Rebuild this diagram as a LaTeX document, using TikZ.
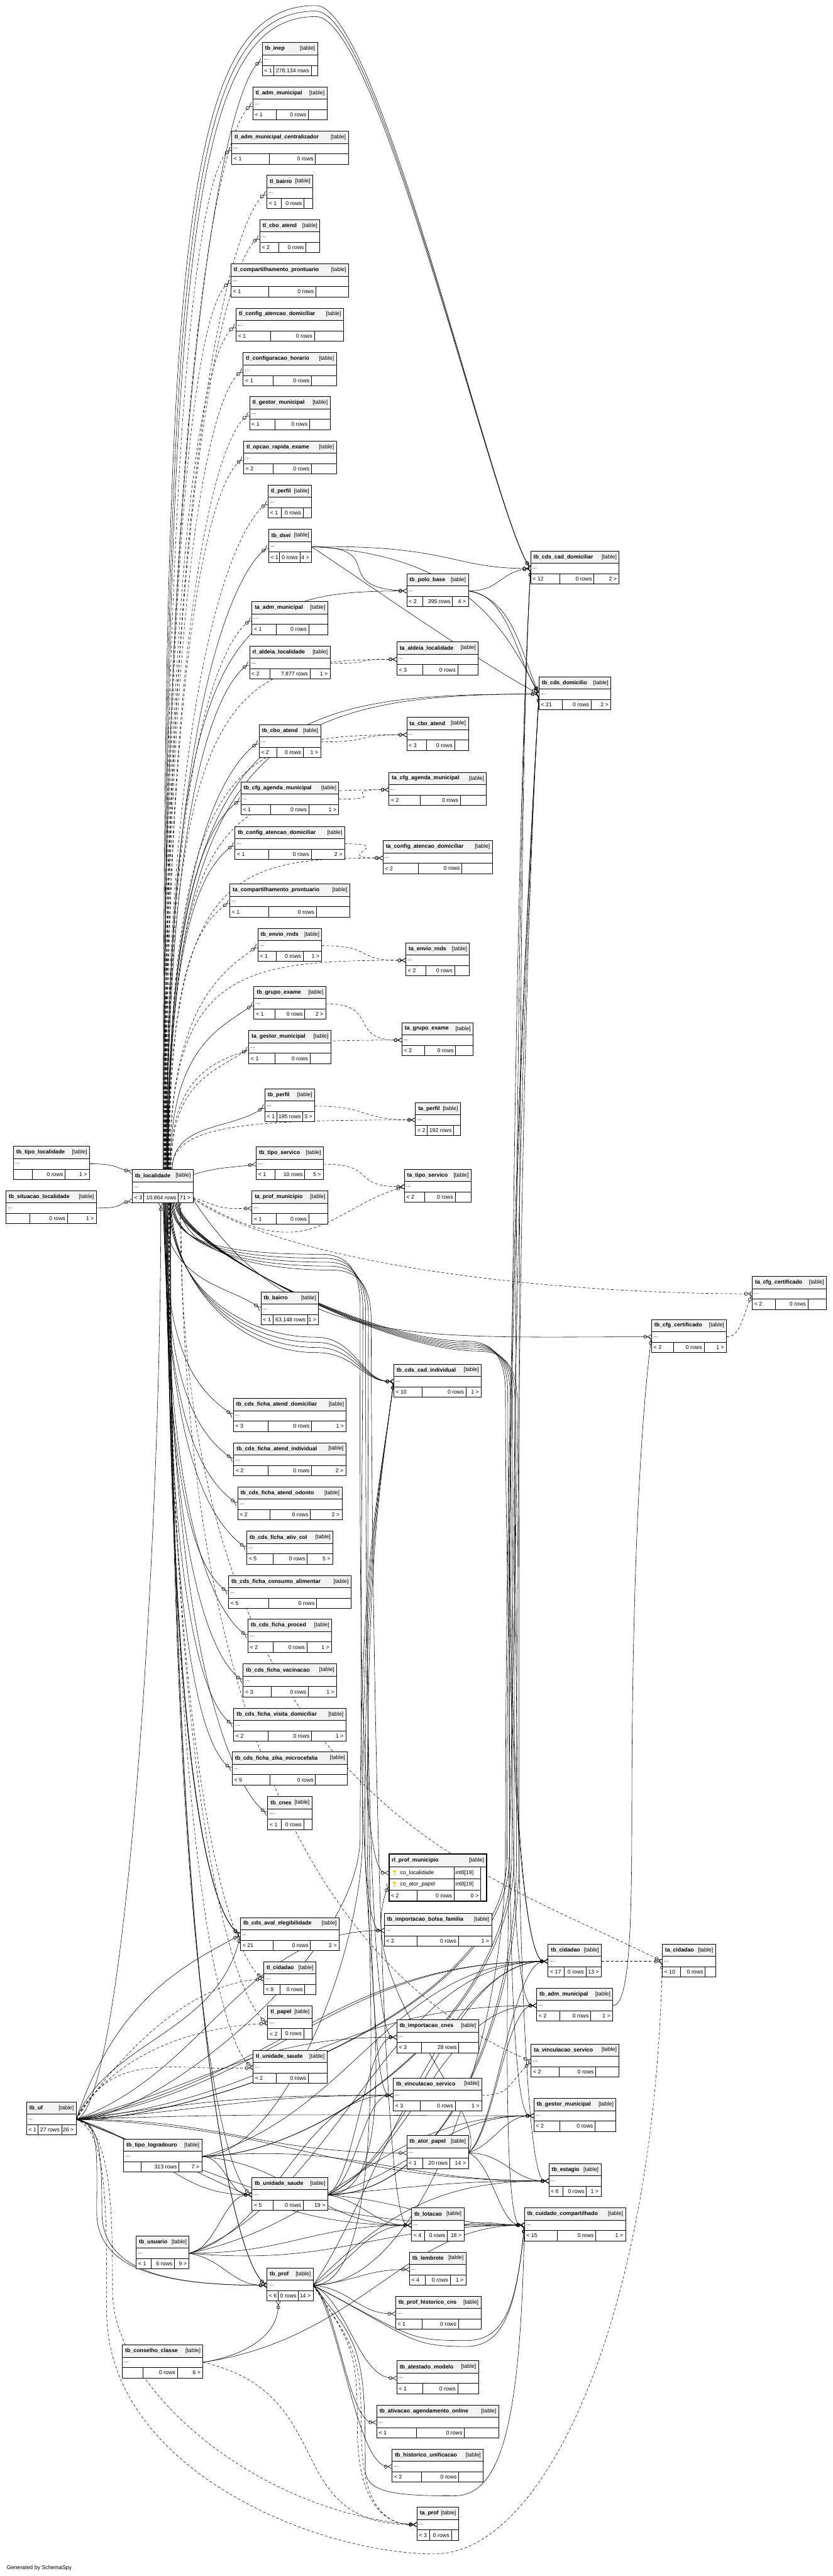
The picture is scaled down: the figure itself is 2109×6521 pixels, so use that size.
\documentclass[tikz,border=0pt]{standalone}
\usepackage{fontspec}
\setmainfont{Liberation Sans}
\usetikzlibrary{arrows.meta,calc}
\pgfdeclarelayer{bg}
\pgfdeclarelayer{edges}
\pgfsetlayers{bg,edges,main}
\definecolor{keyyellow}{RGB}{232,212,0}

\tikzset{
  box/.style={draw=black, line width=1.4pt},
  hdr/.style={fill=black!5},
  ttl/.style={font=\fontsize{14}{16}\selectfont\bfseries, inner sep=0pt},
  cell/.style={font=\fontsize{14}{16}\selectfont, inner sep=0pt},
  fk/.style={line width=0.9pt, line join=round,
    -{Circle[open,length=9pt,width=9pt,line width=1pt] Straight Barb[reversed,length=10pt,width=11pt,line width=1pt]}},
  fkd/.style={fk, dash pattern=on 7pt off 5pt},
}

% table: name, left, top, right, sep1, sep2, left cell, rows, right cell
\newcommand{\dbtable}[9]{%
  \fill[white] (#2,#3) rectangle (#4,#3+83.5);
  \fill[hdr] (#2,#3) rectangle (#4,#3+31);
  \draw[box] (#2,#3) rectangle (#4,#3+83.5);
  \draw[box] (#2,#3+31) -- (#4,#3+31) (#2,#3+57.5) -- (#4,#3+57.5)
    (#5,#3+57.5) -- (#5,#3+83.5) (#6,#3+57.5) -- (#6,#3+83.5);
  \node[ttl, anchor=west] (#1-ttl) at (#2+7,#3+15.5) {\detokenize{#1}};
  \node[cell, anchor=east] (#1-tag) at (#4-6,#3+15.5) {[table]};
  \node[cell, anchor=west] (#1-dots) at (#2+4,#3+44) {...};
  \node[cell, anchor=west] (#1-lt) at (#2+5,#3+70.5) {#7};
  \node[cell, anchor=east] (#1-mid) at (#6-5,#3+70.5) {#8};
  \node[cell, anchor=east] (#1-rt) at (#4-6,#3+70.5) {#9};
  \coordinate (#1-in) at (#2,#3+44);
  \coordinate (#1-out) at (#4,#3+44);
  \node[inner sep=0pt, minimum width=#4pt-#2pt, minimum height=83.5pt, anchor=north west] (#1) at (#2,#3) {};
}

\begin{document}
\begin{tikzpicture}[x=1pt,y=-1pt]
\useasboundingbox (0,0) rectangle (2109,6521);
\begin{pgfonlayer}{bg}
  \fill[white] (0,0) rectangle (2109,6521);
\end{pgfonlayer}

% middle column
\dbtable{tb_inep}{664}{108}{804}{693}{788}{< 1}{278.134 rows}{}
\dbtable{tl_adm_municipal}{640}{220}{828}{700}{781}{< 1}{0 rows}{}
\dbtable{tl_adm_municipal_centralizador}{587}{332}{882}{682}{799}{< 1}{0 rows}{}
\dbtable{tl_bairro}{676}{444}{792}{712}{770}{< 1}{0 rows}{}
\dbtable{tl_cbo_atend}{658}{556}{810}{706}{775}{< 2}{0 rows}{}
\dbtable{tl_compartilhamento_prontuario}{585}{668}{883}{681}{800}{< 1}{0 rows}{}
\dbtable{tl_config_atencao_domiciliar}{598}{780}{870}{686}{796}{< 1}{0 rows}{}
\dbtable{tl_configuracao_horario}{616}{893}{852}{692}{789}{< 1}{0 rows}{}
\dbtable{tl_gestor_municipal}{632}{1004}{836}{697}{784}{< 1}{0 rows}{}
\dbtable{tl_opcao_rapida_exame}{617}{1116}{852}{692}{789}{< 2}{0 rows}{}
\dbtable{tl_perfil}{679}{1228}{789}{713}{768}{< 1}{0 rows}{}
\dbtable{tb_dsei}{680}{1340}{789}{708}{760}{< 1}{0 rows}{4 >}
\dbtable{ta_adm_municipal}{638}{1523}{830}{699}{782}{< 1}{0 rows}{}
\dbtable{rl_aldeia_localidade}{632}{1635}{836}{683}{785}{< 2}{7.877 rows}{1 >}
\dbtable{tb_cbo_atend}{656}{1834}{812}{701}{768}{< 2}{0 rows}{1 >}
\dbtable{tb_cfg_agenda_municipal}{610}{1979}{858}{685}{782}{< 1}{0 rows}{1 >}
\dbtable{tb_config_atencao_domiciliar}{595}{2092}{873}{680}{788}{< 1}{0 rows}{2 >}
\dbtable{ta_compartilhamento_prontuario}{582}{2238}{886}{681}{801}{< 1}{0 rows}{}
\dbtable{tb_envio_rnds}{653}{2350}{815}{700}{768}{< 1}{0 rows}{1 >}
\dbtable{tb_grupo_exame}{643}{2497}{825}{697}{772}{< 1}{0 rows}{2 >}
\dbtable{ta_gestor_municipal}{630}{2609}{838}{696}{785}{< 1}{0 rows}{}
\dbtable{tb_perfil}{671}{2756}{797}{701}{767}{< 1}{195 rows}{3 >}
\dbtable{tb_tipo_servico}{649}{2903}{819}{696}{772}{< 1}{10 rows}{5 >}
\dbtable{ta_prof_municipio}{638}{3015}{830}{699}{782}{< 1}{0 rows}{}
\dbtable{tb_bairro}{661}{3270}{807}{691}{779}{< 1}{63.148 rows}{1 >}
\dbtable{tb_cds_ficha_atend_domiciliar}{591}{3540}{877}{679}{789}{< 3}{0 rows}{1 >}
\dbtable{tb_cds_ficha_atend_individual}{592}{3652}{876}{679}{789}{< 2}{0 rows}{2 >}
\dbtable{tb_cds_ficha_atend_odonto}{602}{3764}{866}{683}{786}{< 2}{0 rows}{2 >}
\dbtable{tb_cds_ficha_ativ_col}{625}{3876}{843}{691}{778}{< 5}{0 rows}{5 >}
\dbtable{tb_cds_ficha_consumo_alimentar}{579}{3988}{889}{680}{802}{< 5}{0 rows}{}
\dbtable{tb_cds_ficha_proced}{628}{4099}{840}{691}{777}{< 2}{0 rows}{1 >}
\dbtable{tb_cds_ficha_vacinacao}{616}{4212}{853}{687}{781}{< 3}{0 rows}{1 >}
\dbtable{tb_cds_ficha_visita_domiciliar}{592}{4324}{876}{679}{789}{< 2}{0 rows}{1 >}
\dbtable{tb_cds_ficha_zika_microcefalia}{588}{4435}{880}{683}{799}{< 9}{0 rows}{}
\dbtable{tb_cnes}{678}{4548}{790}{713}{769}{< 1}{0 rows}{}
\dbtable{tb_cds_aval_elegibilidade}{609}{4854}{859}{691}{786}{< 21}{0 rows}{2 >}
\dbtable{tl_cidadao}{668}{4966}{800}{709}{772}{< 9}{0 rows}{}
\dbtable{tl_papel}{678}{5078}{790}{713}{769}{< 2}{0 rows}{}
\dbtable{tl_unidade_saude}{641}{5190}{828}{700}{781}{< 2}{0 rows}{}
\dbtable{tb_unidade_saude}{638}{5512}{830}{692}{768}{< 5}{0 rows}{19 >}
\dbtable{tb_prof}{676}{5741}{793}{705}{756}{< 6}{0 rows}{14 >}

% right side
\dbtable{tb_cds_cad_domiciliar}{1344}{1395}{1568}{1417}{1504}{< 12}{0 rows}{2 >}
\dbtable{tb_polo_base}{1030}{1452}{1186}{1070}{1146}{< 2}{395 rows}{4 >}
\dbtable{ta_aldeia_localidade}{1005}{1625}{1211}{1071}{1159}{< 3}{0 rows}{}
\dbtable{tb_cds_domicilio}{1365}{1713}{1547}{1424}{1497}{< 21}{0 rows}{2 >}
\dbtable{ta_cbo_atend}{1030}{1816}{1186}{1080}{1151}{< 3}{0 rows}{}
\dbtable{ta_cfg_agenda_municipal}{985}{1955}{1232}{1064}{1166}{< 2}{0 rows}{}
\dbtable{ta_config_atencao_domiciliar}{970}{2128}{1247}{1059}{1170}{< 2}{0 rows}{}
\dbtable{ta_envio_rnds}{1028}{2387}{1189}{1079}{1151}{< 2}{0 rows}{}
\dbtable{ta_grupo_exame}{1018}{2589}{1198}{1076}{1154}{< 2}{0 rows}{}
\dbtable{ta_perfil}{1052}{2791}{1166}{1081}{1149}{< 2}{192 rows}{}
\dbtable{ta_tipo_servico}{1024}{2960}{1193}{1076}{1153}{< 2}{0 rows}{}
\dbtable{ta_cfg_certificado}{1905}{3231}{2093}{1964}{2046}{< 2}{0 rows}{}
\dbtable{tb_cfg_certificado}{1650}{3340}{1840}{1705}{1783}{< 2}{0 rows}{1 >}
\dbtable{tb_cds_cad_individual}{997}{3453}{1219}{1069}{1180}{< 10}{0 rows}{1 >}
\dbtable{tb_importacao_bolsa_familia}{973}{4843}{1245}{1056}{1161}{< 2}{0 rows}{1 >}
\dbtable{tb_cidadao}{1388}{4921}{1523}{1429}{1484}{< 17}{0 rows}{13 >}
\dbtable{ta_cidadao}{1677}{4921}{1812}{1724}{1786}{< 10}{0 rows}{}
\dbtable{tb_adm_municipal}{1359}{5033}{1552}{1417}{1496}{< 2}{0 rows}{1 >}
\dbtable{tb_importacao_cnes}{1005}{5113}{1212}{1068}{1162}{< 3}{28 rows}{}
\dbtable{ta_vinculacao_servico}{1345}{5174}{1568}{1416}{1509}{< 2}{0 rows}{}
\dbtable{tb_vinculacao_servico}{996}{5260}{1220}{1064}{1153}{< 3}{0 rows}{1 >}
\dbtable{tb_gestor_municipal}{1352}{5312}{1560}{1418}{1507}{< 2}{0 rows}{}
\dbtable{tb_ator_papel}{1030}{5406}{1186}{1070}{1139}{< 1}{20 rows}{14 >}
\dbtable{tb_estagio}{1390}{5477}{1522}{1426}{1485}{< 6}{0 rows}{1 >}
\dbtable{tb_lotacao}{1042}{5589}{1175}{1076}{1133}{< 4}{0 rows}{18 >}
\dbtable{tb_cuidado_compartilhado}{1328}{5589}{1584}{1412}{1509}{< 15}{0 rows}{1 >}
\dbtable{tb_lembrete}{1037}{5701}{1180}{1077}{1140}{< 4}{0 rows}{1 >}
\dbtable{tb_prof_historico_cns}{1002}{5813}{1218}{1069}{1161}{< 1}{0 rows}{}
\dbtable{tb_atestado_modelo}{1005}{5976}{1212}{1071}{1159}{< 1}{0 rows}{}
\dbtable{tb_ativacao_agendamento_online}{954}{6088}{1263}{1054}{1176}{< 1}{0 rows}{}
\dbtable{tb_historico_unificacao}{993}{6200}{1224}{1067}{1162}{< 2}{0 rows}{}
\dbtable{ta_prof}{1056}{6347}{1161}{1088}{1143}{< 3}{0 rows}{}

% left side
\dbtable{tb_tipo_localidade}{34}{2902}{227}{82}{165}{}{0 rows}{1 >}
\dbtable{tb_situacao_localidade}{15}{3014}{244}{76}{171}{}{0 rows}{1 >}
\dbtable{tb_localidade}{335}{2961}{489}{364}{452}{< 3}{10.864 rows}{71 >}
\dbtable{tb_uf}{67}{5321}{193}{97}{156}{< 1}{27 rows}{26 >}
\dbtable{tb_tipo_logradouro}{313}{5415}{511}{358}{453}{}{313 rows}{7 >}
\dbtable{tb_usuario}{345}{5660}{479}{382}{442}{< 1}{6 rows}{9 >}
\dbtable{tb_conselho_classe}{310}{5936}{514}{362}{449}{}{0 rows}{6 >}

% rl_prof_municipio, with its columns
\fill[white] (985,4694) rectangle (1232,4813);
\fill[hdr] (985,4694) rectangle (1232,4726);
\draw[box] (985,4726) -- (1232,4726) (985,4756) -- (1217,4756) (985,4785) -- (1217,4785)
  (1149.5,4726) -- (1149.5,4813) (1217,4726) -- (1217,4813) (1057,4785) -- (1057,4813);
\draw[line width=3.2pt] (985,4694) rectangle (1232,4813);
\node[ttl, anchor=west] (rl_prof_municipio-ttl) at (992,4710) {rl\_prof\_municipio};
\node[cell, anchor=east] (rl_prof_municipio-tag) at (1226,4710) {[table]};
\foreach \r in {4741,4770}{
  \fill[keyyellow] (999,\r-4) circle (3.6pt);
  \draw[keyyellow, line width=2.2pt] (999,\r-3) -- (999,\r+7) (999,\r+4) -- (1003,\r+4);
}
\node[cell, anchor=west] (rl_prof_municipio-c1) at (1013,4741) {co\_localidade};
\node[cell, anchor=west] (rl_prof_municipio-c2) at (1013,4770) {co\_ator\_papel};
\node[cell, anchor=west] (rl_prof_municipio-t1) at (1153,4741) {int8[19]};
\node[cell, anchor=west] (rl_prof_municipio-t2) at (1153,4770) {int8[19]};
\node[cell, anchor=west] (rl_prof_municipio-lt) at (990,4799) {< 2};
\node[cell, anchor=east] (rl_prof_municipio-mid) at (1145,4799) {0 rows};
\node[cell, anchor=east] (rl_prof_municipio-rt) at (1212,4799) {0 >};
\coordinate (rl_prof_municipio-in) at (985,4741);
\coordinate (rl_prof_municipio-ator) at (985,4770);
\node[inner sep=0pt, minimum width=247pt, minimum height=119pt, anchor=north west] (rl_prof_municipio) at (985,4694) {};

\node[cell, anchor=west] (generated) at (17,6500) {Generated by SchemaSpy};

\begin{pgfonlayer}{edges}
% tb_localidade, up to the middle column
\foreach \c/\s/\d in {tb_inep/fk/1, tl_adm_municipal/fkd/2, tl_adm_municipal_centralizador/fkd/3,
    tl_bairro/fkd/4, tl_cbo_atend/fkd/5, tl_compartilhamento_prontuario/fkd/6,
    tl_config_atencao_domiciliar/fkd/6, tl_configuracao_horario/fkd/7, tl_gestor_municipal/fkd/7,
    tl_opcao_rapida_exame/fkd/8, tl_perfil/fkd/8, tb_dsei/fk/9, ta_adm_municipal/fkd/10,
    rl_aldeia_localidade/fk/11, tb_cbo_atend/fk/12, tb_cfg_agenda_municipal/fk/13,
    tb_config_atencao_domiciliar/fk/14, ta_compartilhamento_prontuario/fkd/15, tb_envio_rnds/fkd/17,
    tb_grupo_exame/fk/19, ta_gestor_municipal/fkd/21, tb_perfil/fk/24}
  \draw[\s] let \p1=([xshift=\d pt]tb_localidade.north), \p2=(\c-in) in
    (\p1) .. controls +(0pt,{0.75*(\y2-\y1)}) and +(-80pt,-60pt) .. (\p2);

% tb_localidade, up to the right column
\foreach \c/\s/\d/\f in {tb_polo_base/fk/10/0.95, ta_aldeia_localidade/fkd/11/0.95,
    tb_cds_domicilio/fk/12/0.95, tb_cds_domicilio/fk/13/0.9, ta_cbo_atend/fkd/14/0.95,
    ta_cfg_agenda_municipal/fkd/15/0.95, ta_config_atencao_domiciliar/fkd/16/0.95,
    ta_envio_rnds/fkd/18/0.95, ta_grupo_exame/fkd/20/0.95, ta_perfil/fkd/23/0.9}
  \draw[\s] let \p1=([xshift=\d pt]tb_localidade.north), \p2=(\c-in) in
    (\p1) .. controls +(0pt,{\f*(\y2-\y1)}) and +({-0.7*(\x2-\x1)},0pt) .. (\p2);

% over the top
\foreach \d/\w in {1/14, 3/28, 5/42}
  \draw[fk] ([xshift=\d pt]tb_localidade.north) .. controls (413+\d,600) and (450+\w,\w) .. (800,\w)
    .. controls (960,\w) and (1250,1300) .. (tb_cds_cad_domiciliar-in);

% tb_localidade, down
\foreach \c/\s/\d in {tb_bairro/fk/1, tb_cds_ficha_atend_domiciliar/fk/2, tb_cds_ficha_atend_individual/fk/3,
    tb_cds_ficha_atend_odonto/fk/4, tb_cds_ficha_ativ_col/fk/5, tb_cds_ficha_consumo_alimentar/fk/6,
    tb_cds_ficha_proced/fk/7, tb_cds_ficha_vacinacao/fk/8, tb_cds_ficha_visita_domiciliar/fk/9,
    tb_cds_ficha_zika_microcefalia/fk/10, tb_cnes/fk/11, tb_cds_aval_elegibilidade/fk/12,
    tb_cds_aval_elegibilidade/fk/13, tb_cds_aval_elegibilidade/fk/14, tl_cidadao/fkd/15,
    tl_papel/fkd/16, tl_unidade_saude/fkd/17, tb_unidade_saude/fk/18, tb_prof/fk/19, tb_prof/fk/20}
  \draw[\s] let \p1=([xshift=\d pt]tb_localidade.south), \p2=(\c-in) in
    (\p1) .. controls +(0pt,{0.75*(\y2-\y1)}) and +(-80pt,60pt) .. (\p2);

% tb_localidade, down the right of the middle column
\foreach \c/\d/\ya/\bx in {rl_prof_municipio/22/3175/912, tb_importacao_bolsa_familia/24/3185/919,
    tb_importacao_cnes/26/3195/926, tb_vinculacao_servico/28/3205/933, tb_lotacao/42/3215/940,
    tb_cidadao/30/3395/1280, tb_cidadao/32/3400/1286, tb_gestor_municipal/34/3405/1292,
    tb_adm_municipal/36/3410/1298, tb_estagio/38/3415/1304, tb_cuidado_compartilhado/40/3420/1310}
  \draw[fk] ([xshift=\d pt]tb_localidade.south) .. controls +(0pt,-100pt) and +(-250pt,0pt) .. (\bx-100,\ya)
    .. controls +(60pt,0pt) and +(0pt,100pt) .. (\bx,\ya+130)
    .. controls +(0pt,-600pt) and +(-80pt,0pt) .. (\c-in);

\draw[fkd] ([xshift=44pt]tb_localidade.south) .. controls +(0pt,-1500pt) and +(-500pt,250pt) .. (ta_cidadao-in);
\draw[fkd] ([xshift=46pt]tb_localidade.south) .. controls +(0pt,-1600pt) and +(-350pt,150pt) .. (ta_vinculacao_servico-in);

\foreach \d/\ya in {16/3385, 18/3398, 20/3411, 22/3424}
  \draw[fk] ([xshift=\d pt]tb_localidade.south) .. controls +(0pt,-200pt) and +(-200pt,0pt) .. (800,\ya)
    .. controls +(100pt,0pt) and +(-80pt,0pt) .. (tb_cds_cad_individual-in);

% tb_localidade, right side
\draw[fk] ([yshift=30pt]tb_localidade.east) .. controls +(70pt,20pt) and +(-70pt,-10pt) .. (tb_tipo_servico-in);
\draw[fkd] ([yshift=-28pt]tb_localidade.east) .. controls +(80pt,-30pt) and +(-80pt,0pt) .. (ta_prof_municipio-in);
\draw[fkd] ([yshift=-30pt]tb_localidade.east) .. controls +(300pt,-180pt) and +(-200pt,-60pt) .. (ta_tipo_servico-in);
\draw[fkd] ([yshift=-32pt]tb_localidade.east) .. controls +(250pt,-170pt) and +(-500pt,0pt) .. (ta_cfg_certificado-in);
\draw[fk] ([yshift=-34pt]tb_localidade.east) .. controls +(250pt,-380pt) and +(-600pt,0pt) .. (tb_cfg_certificado-in);

% parents of tb_localidade
\draw[fk] (tb_tipo_localidade-out) .. controls +(70pt,0pt) and +(-40pt,8pt) .. ([yshift=-5pt]tb_localidade.north west);
\draw[fk] (tb_situacao_localidade-out) .. controls +(70pt,0pt) and +(-40pt,-8pt) .. ([yshift=5pt]tb_localidade.south west);
\draw[fk] (tb_uf-out) .. controls +(120pt,30pt) and +(0pt,-900pt) .. ([xshift=-5pt]tb_localidade.south);

% tb_dsei and tb_polo_base
\draw[fk] (tb_dsei-out) .. controls +(200pt,0pt) and +(-200pt,10pt) .. (tb_polo_base-in);
\draw[fk] (tb_dsei-out) .. controls +(350pt,5pt) and +(-200pt,0pt) .. (tb_cds_cad_domiciliar-in);
\draw[fk] (tb_dsei-out) .. controls +(400pt,-20pt) and +(-80pt,150pt) .. (tb_cds_domicilio-in);
\draw[fk] (tb_dsei-out) .. controls +(150pt,-100pt) and +(-150pt,80pt) .. (tb_cds_domicilio-in);
\draw[fk] (tb_polo_base-out) .. controls +(80pt,0pt) and +(-80pt,-10pt) .. (tb_cds_cad_domiciliar-in);
\draw[fk] (tb_polo_base-out) .. controls +(100pt,-10pt) and +(-60pt,100pt) .. (tb_cds_domicilio-in);
\draw[fk] (tb_polo_base-out) .. controls +(110pt,-20pt) and +(-50pt,120pt) .. (tb_cds_domicilio-in);

% tb_* to ta_*
\foreach \a/\c in {rl_aldeia_localidade/ta_aldeia_localidade, tb_cbo_atend/ta_cbo_atend,
    tb_cfg_agenda_municipal/ta_cfg_agenda_municipal, tb_config_atencao_domiciliar/ta_config_atencao_domiciliar,
    tb_envio_rnds/ta_envio_rnds, tb_grupo_exame/ta_grupo_exame, tb_perfil/ta_perfil,
    tb_tipo_servico/ta_tipo_servico}
  \draw[fkd] (\a-out) .. controls +(140pt,0pt) and +(-140pt,0pt) .. (\c-in);
\draw[fkd] (tb_cidadao-out) -- (ta_cidadao-in);
\draw[fkd] (tb_vinculacao_servico-out) .. controls +(70pt,0pt) and +(-60pt,-60pt) .. (ta_vinculacao_servico-in);
\draw[fkd] (tb_cfg_certificado-out) .. controls +(35pt,0pt) and +(-25pt,-60pt) .. (ta_cfg_certificado-in);
\draw[fk] (tb_adm_municipal-out) .. controls +(40pt,0pt) and +(0pt,-300pt) .. (1600,4600)
  .. controls +(0pt,700pt) and +(-20pt,-150pt) .. (tb_cfg_certificado-in);

% tb_uf
\foreach \c/\h in {tl_cidadao/140, tl_papel/160, tl_unidade_saude/180}
  \draw[fkd] (tb_uf-out) .. controls +(90pt,\h pt) and +(-200pt,-10pt) .. (\c-in);
\draw[fk] (tb_uf-out) .. controls +(80pt,200pt) and +(-60pt,-250pt) .. (tb_cds_aval_elegibilidade-in);
\draw[fk] (tb_uf-out) .. controls +(100pt,300pt) and +(-150pt,-80pt) .. (tb_cds_aval_elegibilidade-in);
\foreach \c/\o in {tb_importacao_bolsa_familia/20, tb_importacao_cnes/15, tb_vinculacao_servico/8,
    tb_vinculacao_servico/4, tb_cidadao/12, tb_cidadao/10, tb_ator_papel/0, tb_gestor_municipal/2,
    tb_adm_municipal/6, tb_estagio/-2, tb_unidade_saude/-15, tb_lotacao/-20, tb_cuidado_compartilhado/-22}
  \draw[fk] let \p1=(tb_uf-out), \p2=(\c-in) in
    (\p1) .. controls +(\o:{0.45*(\x2-\x1)}) and +({-0.45*(\x2-\x1)},0pt) .. (\p2);
\foreach \w in {245,258}
  \draw[fk] (tb_uf-out) .. controls +(60pt,-5pt) and +(0pt,150pt) .. (\w,5600)
    .. controls +(0pt,-150pt) and +(-250pt,0pt) .. (tb_prof-in);
\draw[fkd] (tb_uf-out) .. controls +(90pt,-20pt) and +(0pt,200pt) .. (285,5800)
  .. controls +(0pt,-250pt) and +(-400pt,30pt) .. (ta_prof-in);
\draw[fkd] (tb_uf-out) .. controls +(80pt,-30pt) and +(0pt,250pt) .. (270,5850)
  .. controls +(0pt,-400pt) and +(-300pt,0pt) .. (1100,6465)
  .. controls +(280pt,0pt) and +(-20pt,-900pt) .. (ta_cidadao-in);

% vertical bundles
\foreach \a/\c/\bx in {tb_uf/tb_cds_domicilio/1284, tb_uf/tb_cds_cad_domiciliar/1290,
    tb_tipo_logradouro/tb_cds_domicilio/1296, tb_tipo_logradouro/tb_cds_cad_domiciliar/1302,
    tb_unidade_saude/tb_cds_domicilio/1308, tb_unidade_saude/tb_cds_cad_domiciliar/1314,
    tb_prof/tb_cds_domicilio/1280}
  \draw[fk] (\a-out) .. controls +(300pt,0pt) and +(0pt,-400pt) .. (\bx,4700)
    .. controls +(0pt,1400pt) and +(-30pt,-500pt) .. (\c-in);
\foreach \a/\bx in {tb_uf/912, tb_tipo_logradouro/918, tb_unidade_saude/924, tb_prof/930}
  \draw[fk] (\a-out) .. controls +(200pt,0pt) and +(0pt,-300pt) .. (\bx,4650)
    .. controls +(0pt,700pt) and +(-40pt,-300pt) .. (tb_cds_cad_individual-in);

% tb_tipo_logradouro, tb_usuario, tb_conselho_classe
\foreach \c/\o in {tb_cidadao/15, tb_unidade_saude/0, tb_estagio/5, tb_lotacao/-5}
  \draw[fk] let \p1=(tb_tipo_logradouro-out), \p2=(\c-in) in
    (\p1) .. controls +(\o:{0.45*(\x2-\x1)}) and +({-0.45*(\x2-\x1)},0pt) .. (\p2);
\foreach \c/\o in {tb_prof/-10, tb_cidadao/20, tb_cuidado_compartilhado/-5, tb_lotacao/0,
    tb_vinculacao_servico/15, tb_unidade_saude/10, tb_gestor_municipal/12}
  \draw[fk] let \p1=(tb_usuario-out), \p2=(\c-in) in
    (\p1) .. controls +(\o:{0.45*(\x2-\x1)}) and +({-0.45*(\x2-\x1)},0pt) .. (\p2);
\draw[fk] (tb_conselho_classe-out) .. controls +(120pt,20pt) and +(0pt,-80pt) .. ([xshift=-30pt]tb_prof.south);
\draw[fkd] (tb_conselho_classe-out) .. controls +(350pt,-80pt) and +(-350pt,0pt) .. (ta_prof-in);
\draw[fk] (tb_conselho_classe-out) .. controls +(400pt,60pt) and +(-300pt,0pt) .. (tb_cuidado_compartilhado-in);

% tb_ator_papel
\draw[fk] (tb_ator_papel-out) .. controls +(60pt,100pt) and +(-100pt,-250pt) .. (rl_prof_municipio-ator);
\foreach \c/\o in {tb_cidadao/40, tb_gestor_municipal/20, tb_adm_municipal/35, tb_estagio/0, tb_cuidado_compartilhado/-20}
  \draw[fk] let \p1=(tb_ator_papel-out), \p2=(\c-in) in
    (\p1) .. controls +(\o:{0.45*(\x2-\x1)}) and +({-0.45*(\x2-\x1)},0pt) .. (\p2);

% tb_unidade_saude
\foreach \c/\o in {tb_lotacao/-10, tb_estagio/5, tb_cidadao/25, tb_cuidado_compartilhado/-5,
    tb_vinculacao_servico/20, tb_importacao_cnes/30, tb_adm_municipal/25, tb_gestor_municipal/15}
  \draw[fk] let \p1=(tb_unidade_saude-out), \p2=(\c-in) in
    (\p1) .. controls +(\o:{0.45*(\x2-\x1)}) and +({-0.45*(\x2-\x1)},0pt) .. (\p2);

% tb_prof
\foreach \c/\o in {tb_lembrete/5, tb_prof_historico_cns/-5, tb_atestado_modelo/-25,
    tb_ativacao_agendamento_online/-35, tb_historico_unificacao/-45, tb_lotacao/30, tb_estagio/45, tb_cidadao/55}
  \draw[fk] let \p1=(tb_prof-out), \p2=(\c-in) in
    (\p1) .. controls +(\o:{0.45*(\x2-\x1)}) and +({-0.45*(\x2-\x1)},0pt) .. (\p2);
\foreach \w in {905,915}
  \draw[fkd] (tb_prof-out) .. controls +(100pt,-150pt) and +(0pt,200pt) .. (\w,6150)
    .. controls +(0pt,-120pt) and +(-120pt,0pt) .. (ta_prof-in);
\foreach \v in {5925,5940}
  \draw[fk] (tb_prof-out) .. controls +(250pt,-130pt) and +(-150pt,0pt) .. (1180,\v)
    .. controls +(100pt,0pt) and +(-20pt,-200pt) .. (tb_cuidado_compartilhado-in);
\draw[fk] (tb_prof-out) .. controls +(120pt,-150pt) and +(0pt,300pt) .. (925,6250)
  .. controls +(0pt,-60pt) and +(-150pt,0pt) .. (1150,6318)
  .. controls +(120pt,0pt) and +(-10pt,-500pt) .. (tb_cuidado_compartilhado-in);

% tb_lotacao
\draw[fk] (tb_lotacao-out) .. controls +(50pt,15pt) and +(-60pt,0pt) .. (tb_cuidado_compartilhado-in);
\draw[fk] (tb_lotacao-out) .. controls +(50pt,-5pt) and +(-60pt,5pt) .. (tb_cuidado_compartilhado-in);
\end{pgfonlayer}
\end{tikzpicture}
\end{document}
